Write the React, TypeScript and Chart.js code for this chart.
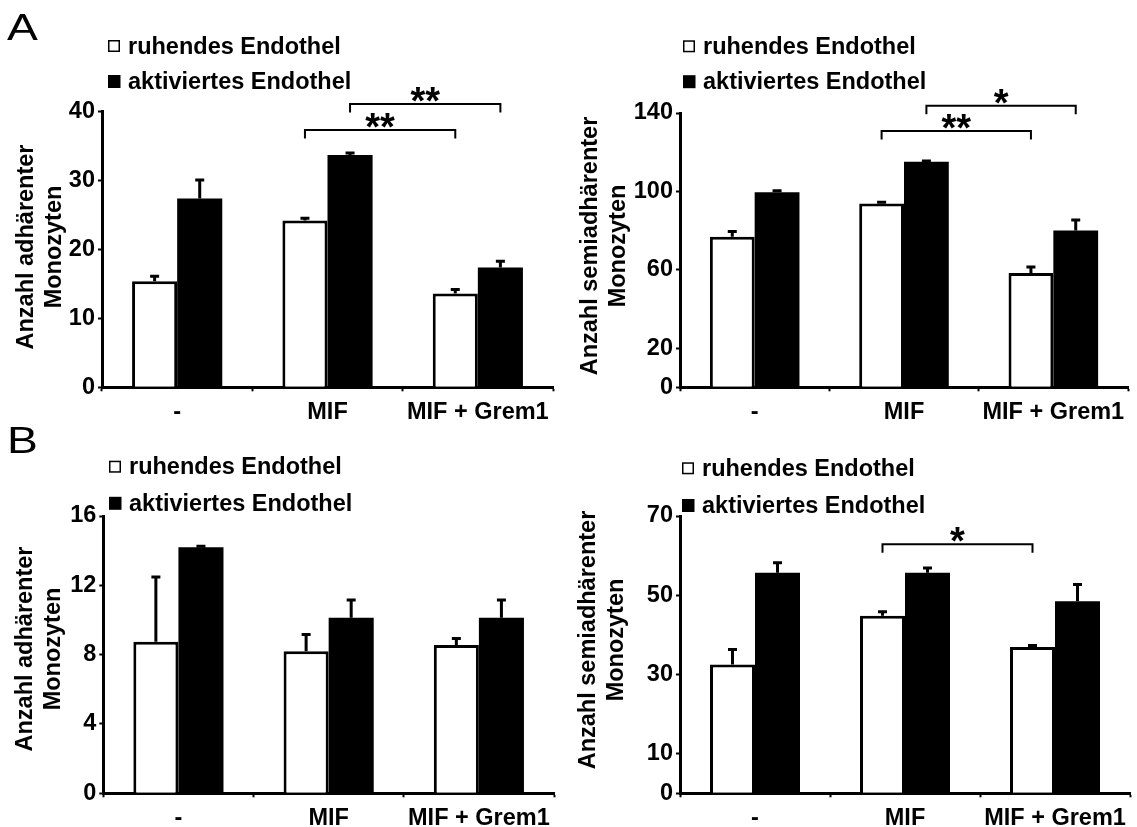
import React, { useEffect, useRef } from 'react';
import { Chart, registerables } from 'chart.js';

Chart.register(...registerables);

// ---------- data ----------
const categories = ['-', 'MIF', 'MIF + Grem1'];
const seriesNames = ['ruhendes Endothel', 'aktiviertes Endothel'];

// Panel A, adherent monocytes
const aAdhRuhend = [15.4, 24.2, 13.6];
const aAdhRuhendErr = [0.7, 0.35, 0.6];
const aAdhAktiv = [27.4, 33.7, 17.4];
const aAdhAktivErr = [2.7, 0.3, 0.9];
const aAdhTicks = [0, 10, 20, 30, 40];

// Panel A, semi-adherent monocytes
const aSemiRuhend = [76.9, 93.8, 58.3];
const aSemiRuhendErr = [2.6, 0.6, 3.1];
const aSemiAktiv = [99.6, 115.1, 80.0];
const aSemiAktivErr = [0.7, 0.4, 5.4];
const aSemiTicks = [0, 20, 60, 100, 140];

// Panel B, adherent monocytes
const bAdhRuhend = [8.75, 8.2, 8.55];
const bAdhRuhendErr = [3.73, 0.96, 0.38];
const bAdhAktiv = [14.2, 10.13, 10.13];
const bAdhAktivErr = [0.06, 1.02, 1.02];
const bAdhTicks = [0, 4, 8, 12, 16];

// Panel B, semi-adherent monocytes
const bSemiRuhend = [32.5, 44.8, 36.9];
const bSemiRuhendErr = [3.8, 1.0, 0.4];
const bSemiAktiv = [55.7, 55.7, 48.5];
const bSemiAktivErr = [2.5, 1.2, 4.2];
const bSemiTicks = [0, 10, 30, 50, 70];

// significance brackets: [category, series] -> [category, series], level in data units
type Bracket = { from: [number, number]; to: [number, number]; level: number; label: string };
const aAdhBrackets: Bracket[] = [
  { from: [1, 0], to: [2, 0], level: 37.35, label: '**' },
  { from: [1, 1], to: [2, 1], level: 41.1, label: '**' },
];
const aSemiBrackets: Bracket[] = [
  { from: [1, 0], to: [2, 0], level: 130.8, label: '**' },
  { from: [1, 1], to: [2, 1], level: 143.7, label: '*' },
];
const bAdhBrackets: Bracket[] = [];
const bSemiBrackets: Bracket[] = [
  { from: [1, 0], to: [2, 0], level: 62.9, label: '*' },
];

const titleAdh = ['Anzahl adhärenter', 'Monozyten'];
const titleSemi = ['Anzahl semiadhärenter', 'Monozyten'];

// ---------- layout / style ----------
const W = 1137;
const H = 827;
const FONT = '"Liberation Sans", Arial, Helvetica, sans-serif';
const YW = 60;
const XH = 45;

type Panel = {
  ruhend: number[]; ruhendErr: number[]; aktiv: number[]; aktivErr: number[];
  ticks: number[]; brackets: Bracket[]; title: string[];
  area: { left: number; right: number; top: number; bottom: number };
  titleX: [number, number]; titleY: number;
  legendX: number; legendY: [number, number];
  letter?: string; letterY?: number;
};

const panels: Panel[] = [
  {
    ruhend: aAdhRuhend, ruhendErr: aAdhRuhendErr, aktiv: aAdhAktiv, aktivErr: aAdhAktivErr,
    ticks: aAdhTicks, brackets: aAdhBrackets, title: titleAdh,
    area: { left: 102, right: 553, top: 111.7, bottom: 387.3 },
    titleX: [27, 55], titleY: 247, legendX: 108, legendY: [46, 81.5],
    letter: 'A', letterY: 40,
  },
  {
    ruhend: aSemiRuhend, ruhendErr: aSemiRuhendErr, aktiv: aSemiAktiv, aktivErr: aSemiAktivErr,
    ticks: aSemiTicks, brackets: aSemiBrackets, title: titleSemi,
    area: { left: 680, right: 1128, top: 113, bottom: 387.3 },
    titleX: [591, 619], titleY: 246, legendX: 683, legendY: [46.3, 81.7],
  },
  {
    ruhend: bAdhRuhend, ruhendErr: bAdhRuhendErr, aktiv: bAdhAktiv, aktivErr: bAdhAktivErr,
    ticks: bAdhTicks, brackets: bAdhBrackets, title: titleAdh,
    area: { left: 103.3, right: 554, top: 516, bottom: 793.3 },
    titleX: [26, 54], titleY: 649, legendX: 109, legendY: [466.7, 503.3],
    letter: 'B', letterY: 453,
  },
  {
    ruhend: bSemiRuhend, ruhendErr: bSemiRuhendErr, aktiv: bSemiAktiv, aktivErr: bSemiAktivErr,
    ticks: bSemiTicks, brackets: bSemiBrackets, title: titleSemi,
    area: { left: 680, right: 1130, top: 516, bottom: 793.3 },
    titleX: [589, 617], titleY: 640, legendX: 682, legendY: [468.3, 505.5],
  },
];

function makeDecor(p: Panel) {
  return {
    id: 'decor',
    afterDatasetsDraw(chart: any) {
      const ctx = chart.ctx as CanvasRenderingContext2D;
      const y = chart.scales.y;
      const errs = [p.ruhendErr, p.aktivErr];
      const vals = [p.ruhend, p.aktiv];
      ctx.save();
      ctx.strokeStyle = '#000';
      ctx.lineWidth = 3;
      for (let di = 0; di < 2; di++) {
        const meta = chart.getDatasetMeta(di);
        meta.data.forEach((el: any, i: number) => {
          const v = vals[di][i];
          const base = y.getPixelForValue(v);
          const top = y.getPixelForValue(v + errs[di][i]);
          ctx.beginPath();
          ctx.moveTo(el.x, base);
          ctx.lineTo(el.x, top);
          ctx.moveTo(el.x - 4.5, top);
          ctx.lineTo(el.x + 4.5, top);
          ctx.stroke();
        });
      }
      ctx.restore();
    },
    afterDraw(chart: any) {
      const ctx = chart.ctx as CanvasRenderingContext2D;
      const y = chart.scales.y;
      ctx.save();
      ctx.fillStyle = '#000';
      ctx.strokeStyle = '#000';

      // significance brackets
      p.brackets.forEach((b) => {
        const x1 = chart.getDatasetMeta(b.from[1]).data[b.from[0]].x;
        const x2 = chart.getDatasetMeta(b.to[1]).data[b.to[0]].x;
        const ly = y.getPixelForValue(b.level);
        ctx.lineWidth = 2;
        ctx.beginPath();
        ctx.moveTo(x1, ly + 8.5);
        ctx.lineTo(x1, ly);
        ctx.lineTo(x2, ly);
        ctx.lineTo(x2, ly + 8.5);
        ctx.stroke();
        ctx.font = `bold 38px ${FONT}`;
        ctx.textAlign = 'center';
        ctx.textBaseline = 'alphabetic';
        ctx.fillText(b.label, (x1 + x2) / 2, ly + 10);
      });

      // legend
      ctx.font = `bold 23.5px ${FONT}`;
      ctx.textAlign = 'left';
      ctx.textBaseline = 'alphabetic';
      seriesNames.forEach((name, i) => {
        const cy = p.legendY[i];
        const bx = p.legendX;
        if (i === 0) {
          ctx.fillStyle = '#fff';
          ctx.fillRect(bx, cy - 6, 12, 12);
          ctx.lineWidth = 1.5;
          ctx.strokeRect(bx + 0.75, cy - 5.25, 10.5, 10.5);
        } else {
          ctx.fillStyle = '#000';
          ctx.fillRect(bx, cy - 6.5, 12.5, 13);
        }
        ctx.fillStyle = '#000';
        ctx.fillText(name, bx + 20, cy + 7.5);
      });

      // y-axis title (two rotated lines)
      ctx.font = `bold 23.5px ${FONT}`;
      ctx.textAlign = 'center';
      ctx.textBaseline = 'middle';
      p.title.forEach((line, i) => {
        ctx.save();
        ctx.translate(p.titleX[i], p.titleY);
        ctx.rotate(-Math.PI / 2);
        ctx.fillText(line, 0, 0);
        ctx.restore();
      });

      // panel letter
      if (p.letter) {
        ctx.save();
        ctx.font = `37px ${FONT}`;
        ctx.textAlign = 'left';
        ctx.textBaseline = 'alphabetic';
        ctx.translate(7, p.letterY as number);
        ctx.scale(1.25, 1);
        ctx.fillText(p.letter, 0, 0);
        ctx.restore();
      }
      ctx.restore();
    },
  };
}

function PanelChart({ panel }: { panel: Panel }) {
  const ref = useRef<HTMLCanvasElement | null>(null);
  useEffect(() => {
    const p = panel;
    const tickFont = { family: FONT, size: 23.5, weight: 'bold' as const };
    const chart = new Chart(ref.current as HTMLCanvasElement, {
      type: 'bar',
      data: {
        labels: categories,
        datasets: [
          {
            label: seriesNames[0],
            data: p.ruhend,
            backgroundColor: '#ffffff',
            borderColor: '#000000',
            borderWidth: 3,
          },
          {
            label: seriesNames[1],
            data: p.aktiv,
            backgroundColor: '#000000',
            borderColor: '#000000',
            borderWidth: 0,
          },
        ],
      },
      options: {
        responsive: false,
        animation: false,
        devicePixelRatio: 1,
        events: [],
        layout: {
          padding: {
            left: p.area.left - YW,
            right: W - p.area.right,
            top: p.area.top,
            bottom: H - p.area.bottom - XH,
          },
        },
        datasets: { bar: { categoryPercentage: 0.6, barPercentage: 1.0 } },
        plugins: {
          legend: { display: false },
          tooltip: { enabled: false },
          title: { display: false },
        },
        scales: {
          x: {
            type: 'category',
            grid: {
              display: true,
              drawOnChartArea: false,
              drawTicks: true,
              tickLength: 4,
              tickWidth: 2,
              tickColor: '#000',
              offset: true,
            },
            border: { display: true, color: '#000', width: 3 },
            ticks: { color: '#000', font: tickFont, padding: 7, maxRotation: 0, autoSkip: false },
            afterFit: (s: any) => { s.height = XH; },
          },
          y: {
            type: 'linear',
            min: 0,
            max: p.ticks[p.ticks.length - 1],
            afterBuildTicks: (s: any) => { s.ticks = p.ticks.map((v) => ({ value: v })); },
            grid: {
              display: true,
              drawOnChartArea: false,
              drawTicks: true,
              tickLength: 4,
              tickWidth: 2,
              tickColor: '#000',
            },
            border: { display: true, color: '#000', width: 3 },
            ticks: { color: '#000', font: tickFont, padding: 3 },
            afterFit: (s: any) => { s.width = YW; },
          },
        },
      },
      plugins: [makeDecor(p)],
    } as any);
    return () => chart.destroy();
  }, [panel]);
  return (
    <canvas
      ref={ref}
      width={W}
      height={H}
      style={{ position: 'absolute', left: 0, top: 0, width: W, height: H }}
    />
  );
}

export default function App() {
  return (
    <div style={{ position: 'absolute', left: 0, top: 0, width: W, height: H, background: '#fff', overflow: 'hidden' }}>
      {panels.map((p, i) => (
        <PanelChart key={i} panel={p} />
      ))}
    </div>
  );
}
